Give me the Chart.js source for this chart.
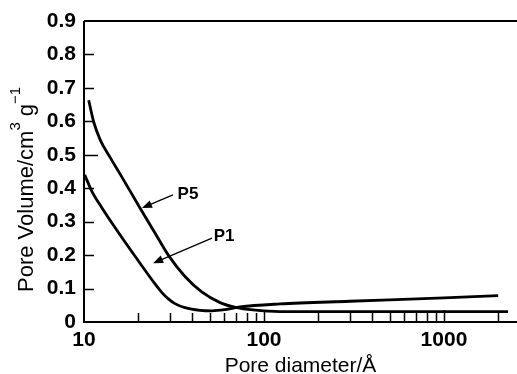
<!DOCTYPE html>
<html>
<head>
<meta charset="utf-8">
<script src="https://cdn.jsdelivr.net/npm/chart.js@4/dist/chart.umd.min.js"></script>
<style>
  html, body { margin: 0; padding: 0; background: #fff; }
  #wrap { width: 517px; height: 374px; }
</style>
</head>
<body>
<div id="wrap"><canvas id="chart" width="517" height="374"></canvas></div>
<script>
// pore size distributions
const p5Diam = [10.62, 11.32, 12.32, 13.94, 15.85, 20.47, 24.8, 29.4, 36.4, 45.1, 57, 70.5, 86.9, 122.7, 300, 1000, 2270];
const p5Vol  = [0.663, 0.598, 0.544, 0.493, 0.443, 0.341, 0.266, 0.200, 0.136, 0.090, 0.058, 0.043, 0.036, 0.031, 0.031, 0.031, 0.031];

const p1Diam = [10.09, 11.08, 12.59, 14.3, 16.9, 20.9, 24.8, 27.1, 29.3, 32.0, 36.4, 44.1, 51.4, 60.7, 73.6, 122.7, 300, 1000, 2000];
const p1Vol  = [0.440, 0.390, 0.341, 0.296, 0.239, 0.169, 0.114, 0.088, 0.070, 0.055, 0.043, 0.035, 0.0335, 0.037, 0.045, 0.054, 0.062, 0.072, 0.079];

const yTicks = [0, 0.1, 0.2, 0.3, 0.4, 0.5, 0.6, 0.7, 0.8, 0.9];
const xLabelTicks = [10, 100, 1000];
const xMinorTicks = [20, 30, 40, 50, 60, 70, 80, 90, 200, 300, 400, 500, 600, 700, 800, 900, 2000];

// arrow labels, in data units
const notes = [
  { text: "P5", at: [37.8, 0.383], from: [31.2, 0.380], to: [21.0, 0.341] },
  { text: "P1", at: [60, 0.257], from: [51.4, 0.251], to: [24.2, 0.176] }
];

const FONT = '"Liberation Sans", Arial, Helvetica, sans-serif';

const toPoints = (xs, ys) => xs.map((x, i) => ({ x: x, y: ys[i] }));

const overlay = {
  id: "overlay",
  afterDraw(chart) {
    const { ctx, chartArea: a, scales: { x, y } } = chart;
    ctx.save();
    ctx.strokeStyle = "#000";
    ctx.fillStyle = "#000";

    // axes + top frame line
    ctx.lineWidth = 2;
    ctx.beginPath();
    ctx.moveTo(a.left, a.top);
    ctx.lineTo(a.left, a.bottom);
    ctx.lineTo(a.right, a.bottom);
    ctx.moveTo(a.left, a.top);
    ctx.lineTo(a.right, a.top);
    ctx.stroke();

    // inward ticks
    ctx.lineWidth = 1.5;
    ctx.beginPath();
    yTicks.slice(1, -1).forEach(v => {
      const py = Math.round(y.getPixelForValue(v)) + 0.5;
      ctx.moveTo(a.left, py);
      ctx.lineTo(a.left + (v === 0.5 ? 14 : 10), py);
    });
    xMinorTicks.forEach(v => {
      const px = Math.round(x.getPixelForValue(v)) + 0.5;
      ctx.moveTo(px, a.bottom);
      ctx.lineTo(px, a.bottom - 9);
    });
    xLabelTicks.slice(1).forEach(v => {
      const px = Math.round(x.getPixelForValue(v)) + 0.5;
      ctx.moveTo(px, a.bottom);
      ctx.lineTo(px, a.bottom - 12);
    });
    ctx.stroke();

    // arrows and labels
    ctx.lineWidth = 1.3;
    notes.forEach(n => {
      const x0 = x.getPixelForValue(n.from[0]), y0 = y.getPixelForValue(n.from[1]);
      const x1 = x.getPixelForValue(n.to[0]), y1 = y.getPixelForValue(n.to[1]);
      const ang = Math.atan2(y1 - y0, x1 - x0);
      ctx.beginPath();
      ctx.moveTo(x0, y0);
      ctx.lineTo(x1 - 6 * Math.cos(ang), y1 - 6 * Math.sin(ang));
      ctx.stroke();
      ctx.beginPath();
      ctx.moveTo(x1, y1);
      ctx.lineTo(x1 - 10 * Math.cos(ang) + 4 * Math.sin(ang), y1 - 10 * Math.sin(ang) - 4 * Math.cos(ang));
      ctx.lineTo(x1 - 10 * Math.cos(ang) - 4 * Math.sin(ang), y1 - 10 * Math.sin(ang) + 4 * Math.cos(ang));
      ctx.closePath();
      ctx.fill();
      ctx.font = "bold 17px " + FONT;
      ctx.textAlign = "center";
      ctx.textBaseline = "middle";
      ctx.fillText(n.text, x.getPixelForValue(n.at[0]), y.getPixelForValue(n.at[1]));
    });

    // x title
    ctx.font = "21px " + FONT;
    ctx.textAlign = "center";
    ctx.textBaseline = "alphabetic";
    ctx.fillText("Pore diameter/\u00c5", (a.left + a.right) / 2, 372);

    // y title with superscripts
    ctx.translate(33, 292);
    ctx.rotate(-Math.PI / 2);
    ctx.textAlign = "left";
    let cx = 0;
    const part = (t, size, rise) => {
      ctx.font = size + "px " + FONT;
      ctx.fillText(t, cx, -rise);
      cx += ctx.measureText(t).width;
    };
    part("Pore Volume/cm", 22, 0);
    part("3", 15, 13);
    part(" g", 22, 0);
    part("\u2212", 15, 13);
    part("1", 15, 13);
    ctx.restore();
  }
};

new Chart(document.getElementById("chart"), {
  type: "scatter",
  data: {
    datasets: [
      { label: "P5", data: toPoints(p5Diam, p5Vol) },
      { label: "P1", data: toPoints(p1Diam, p1Vol) }
    ]
  },
  options: {
    responsive: false,
    animation: false,
    showLine: true,
    layout: { padding: { top: 21, left: 0, right: 0, bottom: 0 } },
    elements: {
      point: { radius: 0, hoverRadius: 0 },
      line: { borderColor: "#000", borderWidth: 2.8, cubicInterpolationMode: "monotone", fill: false }
    },
    plugins: { legend: { display: false }, tooltip: { enabled: false } },
    scales: {
      x: {
        type: "logarithmic",
        min: 10,
        max: 2545,
        grid: { display: false, drawTicks: false },
        border: { display: false },
        afterBuildTicks: s => { s.ticks = xLabelTicks.concat(xMinorTicks).sort((a, b) => a - b).map(v => ({ value: v })); },
        afterFit: s => { s.height = 52; },
        ticks: {
          autoSkip: false,
          maxRotation: 0,
          padding: 6,
          color: "#000",
          font: { family: FONT, size: 21, weight: "bold" },
          callback: v => (xLabelTicks.includes(v) ? String(v) : "")
        }
      },
      y: {
        min: 0,
        max: 0.9,
        grid: { display: false, drawTicks: false },
        border: { display: false },
        afterBuildTicks: s => { s.ticks = yTicks.map(v => ({ value: v })); },
        afterFit: s => { s.width = 84; },
        ticks: {
          padding: 8,
          color: "#000",
          font: { family: FONT, size: 21, weight: "bold" },
          callback: v => String(v)
        }
      }
    }
  },
  plugins: [overlay]
});
</script>
</body>
</html>
